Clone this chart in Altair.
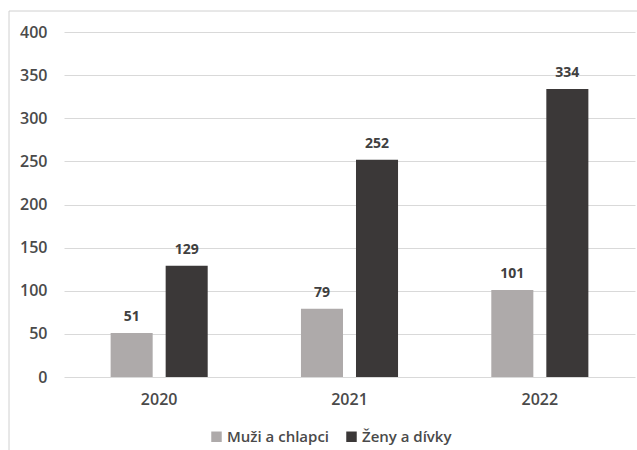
import altair as alt
import pandas as pd

years = ["2020", "2021", "2022"]
series = ["Muži a chlapci", "Ženy a dívky"]
muzi = [51, 79, 101]
zeny = [129, 252, 334]
ticks = [0, 50, 100, 150, 200, 250, 300, 350, 400]
colors = ["#AEAAAA", "#3B3838"]

rows = []
for i, y in enumerate(years):
    rows.append({"rok": y, "skupina": series[0], "pocet": muzi[i]})
    rows.append({"rok": y, "skupina": series[1], "pocet": zeny[i]})
df = pd.DataFrame(rows)

FONT = "Open Sans"
TXT = "#4A4A4A"

x = alt.X("rok:N", title=None, sort=years,
          scale=alt.Scale(paddingInner=0.49, paddingOuter=0.245),
          axis=alt.Axis(labelAngle=0, ticks=False, domain=False, grid=False,
                        labelPadding=14,
                        labelFont=FONT, labelFontSize=16, labelFontWeight=600,
                        labelColor=TXT))
xo = alt.XOffset("skupina:N", sort=series,
                 scale=alt.Scale(paddingInner=0.236, paddingOuter=0))
y = alt.Y("pocet:Q", title=None,
          scale=alt.Scale(domain=[0, 400], nice=False),
          axis=alt.Axis(values=ticks, ticks=False, domain=False,
                        labelPadding=17, labelFont=FONT, labelFontSize=16,
                        labelFontWeight=600, labelColor=TXT,
                        gridColor="#D9D9D9", gridWidth=1))
color = alt.Color("skupina:N", sort=series, title=None,
                  scale=alt.Scale(domain=series, range=colors),
                  legend=alt.Legend(orient="none", direction="horizontal",
                                    legendX=145, legendY=397,
                                    symbolType="square", symbolSize=110,
                                    symbolStrokeWidth=0, labelFont=FONT,
                                    labelFontSize=15, labelFontWeight=600,
                                    labelColor=TXT, columnPadding=14,
                                    labelOffset=3))

bars = alt.Chart(df).mark_bar().encode(x=x, xOffset=xo, y=y, color=color)

labels = alt.Chart(df).mark_text(baseline="bottom", dy=-9, font=FONT, fontSize=14,
                                 fontWeight="bold", color="#404040").encode(
    x=x, xOffset=xo, y=y, text=alt.Text("pocet:Q"))

border = alt.Chart(pd.DataFrame({"a": [0]})).mark_rect(
    fill=None, stroke="#D0D0D0", strokeWidth=1).encode(
    x=alt.value(-55), x2=alt.value(600), y=alt.value(-21), y2=alt.value(440))

chart = (
    alt.layer(border, bars, labels)
    .properties(
        width=571, height=345,
        background="white",
        autosize=alt.AutoSizeParams(type="none"),
        padding={"left": 64, "top": 32, "right": 2, "bottom": 73},
    )
    .configure_view(strokeWidth=0, stroke="transparent")
)

chart.save("out.html", embed_options={"renderer": "svg", "actions": False})
